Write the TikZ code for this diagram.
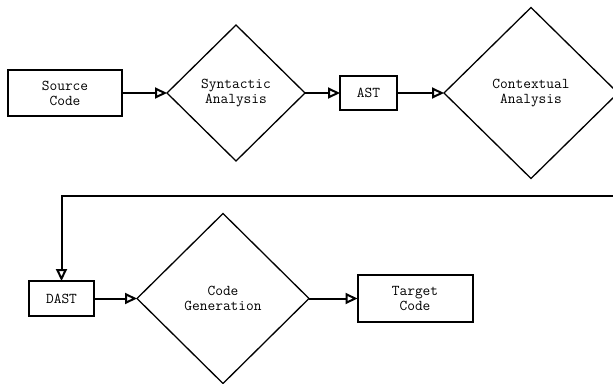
\documentclass[tikz,border=0pt]{standalone}
\usetikzlibrary{shapes.geometric,arrows.meta}
\tikzset{
  base/.style={font=\ttfamily\fontsize{15}{15}\selectfont, align=center, inner sep=0pt, outer sep=0pt},
  procbox/.style={base, draw, line width=2pt},
  decide/.style={base, draw, diamond, line width=1.3pt},
  flow/.style={line width=2pt, -{Triangle[open, length=12pt, width=11pt, line width=2pt]}},
}
\begin{document}
\begin{tikzpicture}[x=1pt,y=-1pt]
\path[use as bounding box, clip] (0,0) rectangle (613,383);
\node[procbox, minimum width=114pt, minimum height=46pt] (src) at (65,93) {Source\\Code};
\node[decide, minimum width=138pt, minimum height=136pt] (syn) at (236,93) {Syntactic\\Analysis};
\node[procbox, minimum width=57pt, minimum height=34pt] (ast) at (368.5,93) {AST};
\node[decide, minimum width=174pt, minimum height=171pt] (ctx) at (531,93) {Contextual\\Analysis};
\node[procbox, minimum width=65pt, minimum height=35pt] (dast) at (61.5,298.5) {DAST};
\node[decide, minimum width=172pt, minimum height=170pt] (gen) at (223,298.5) {Code\\Generation};
\node[procbox, minimum width=115pt, minimum height=47pt] (tgt) at (415,298.5) {Target\\Code};
\coordinate (fbr) at (618,196);
\coordinate (fbl) at (61.5,196);
\draw[flow] (src) -- (syn);
\draw[flow] (syn) -- (ast);
\draw[flow] (ast) -- (ctx);
\draw[flow] (ctx.east) -- (fbr) -- (fbl) -- (dast.north);
\draw[flow] (dast) -- (gen);
\draw[flow] (gen) -- (tgt);
\end{tikzpicture}
\end{document}
